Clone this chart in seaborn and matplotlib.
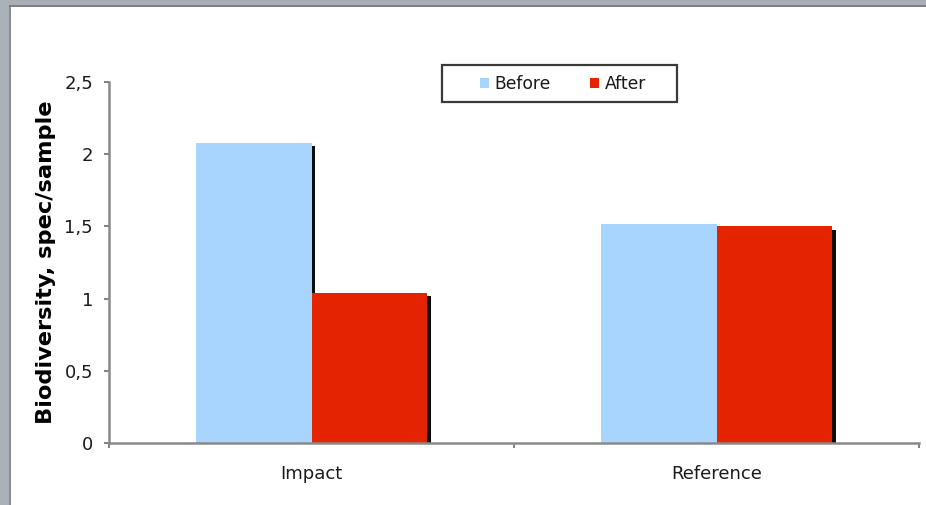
import matplotlib
matplotlib.use("Agg")
import matplotlib.pyplot as plt
import matplotlib.patheffects as pe
from matplotlib.patches import Rectangle
from matplotlib.ticker import FuncFormatter, FixedLocator, NullFormatter
import pandas as pd
import seaborn as sns

# Mean species per sample at the two sites, before and after
sites = ["Impact", "Reference"]
periods = ["Before", "After"]
before_vals = [2.08, 1.52]
after_vals = [1.04, 1.50]
y_ticks = [0, 0.5, 1, 1.5, 2, 2.5]
y_label = "Biodiversity, spec/sample"

palette = {"Before": "#A8D5FE", "After": "#E42300"}

df = pd.DataFrame({
    "site": sites * 2,
    "period": [periods[0]] * len(sites) + [periods[1]] * len(sites),
    "value": before_vals + after_vals,
})

sns.set_theme(style="white")
plt.rcParams["font.family"] = ["DejaVu Sans"]

W, H = 926, 505
fig = plt.figure(figsize=(W / 100, H / 100), dpi=100)
fig.patch.set_facecolor("white")


def px_rect(x0, y0, x1, y1, **kw):
    """Rectangle given in pixel coordinates from the top-left corner."""
    return Rectangle((x0 / W, 1 - y1 / H), (x1 - x0) / W, (y1 - y0) / H,
                     transform=fig.transFigure, **kw)


# slide frame strips along the top and left edges
for x0, y0, x1, y1, c in [(0, 0, W, 7, "#a9aeb5"), (0, 5, W, 7, "#7d7f82"),
                          (0, 0, 9, H, "#aab1b9"), (9, 7, 11, H, "#8a8c8f")]:
    fig.add_artist(px_rect(x0, y0, x1, y1, facecolor=c, edgecolor="none", zorder=0))

ax = fig.add_axes([109 / W, 1 - 443 / H, 810 / W, 361 / H])
ax.set_facecolor("none")

sns.barplot(data=df, x="site", y="value", hue="period", hue_order=periods,
            palette=palette, width=0.572, saturation=1, gap=0,
            linewidth=0, ax=ax, legend=True)

shadow = [pe.SimplePatchShadow(offset=(2.3, -2.3), shadow_rgbFace="black", alpha=0.95),
          pe.Normal()]
for patch in ax.patches:
    patch.set_path_effects(shadow)

ax.set_xlim(-0.5, 1.5)
ax.set_ylim(0, 2.5)
ax.yaxis.set_major_locator(FixedLocator(y_ticks))
ax.yaxis.set_major_formatter(FuncFormatter(lambda v, p: f"{v:g}".replace(".", ",")))

# category labels without ticks, boundary ticks without labels
ax.set_xticks([0, 1])
ax.set_xticklabels(sites)
ax.tick_params(axis="x", which="major", length=0, pad=16, labelsize=13, labelcolor="#1a1a1a")
ax.set_xticks([-0.5, 0.5, 1.5], minor=True)
ax.xaxis.set_minor_formatter(NullFormatter())
ax.tick_params(axis="x", which="minor", bottom=True, length=3.6, width=1.4, color="#808080", direction="out")
ax.tick_params(axis="y", left=True, length=3.6, width=1.4, color="#808080", direction="out",
               labelsize=13, labelcolor="#1a1a1a", pad=8)

for side in ["top", "right"]:
    ax.spines[side].set_visible(False)
for side in ["left", "bottom"]:
    ax.spines[side].set_color("#8a8a8a")
    ax.spines[side].set_linewidth(1.8)

ax.set_xlabel("")
ax.set_ylabel(y_label, fontsize=16.2, fontweight="bold", color="black", labelpad=6)

handles, labels = ax.get_legend_handles_labels()
leg = ax.legend(handles, labels, ncol=2, loc="center",
                bbox_to_anchor=((563 - 109) / 810, (443 - 84) / 361),
                frameon=False, fontsize=12.3, handlelength=0.5, handleheight=0.5,
                handletextpad=0.35, columnspacing=2.3, borderpad=0, borderaxespad=0)
for h in leg.legend_handles:
    h.set_path_effects([])
for t in leg.get_texts():
    t.set_color("#1a1a1a")
leg.set_zorder(6)

# legend box, drawn beneath the legend entries
box = px_rect(442, 65, 677, 102, facecolor="white", edgecolor="#3a3a3a",
              linewidth=1.6, zorder=5, clip_on=False)
ax.add_artist(box)

fig.savefig("out.png", dpi=100)
